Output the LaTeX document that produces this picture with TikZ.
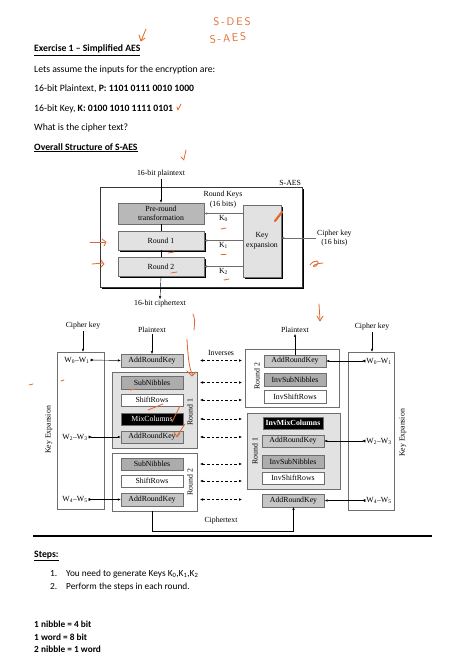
\documentclass[tikz,border=0pt]{standalone}
\usepackage{fontspec}
\setmainfont{Carlito}
\newfontfamily\tms{Liberation Serif}
\usetikzlibrary{arrows.meta,shadows}
\definecolor{ink}{RGB}{226,104,44}
\definecolor{lgray}{RGB}{226,226,226}
\definecolor{mgray}{RGB}{198,198,198}
\definecolor{dgray}{RGB}{172,172,172}
\definecolor{edge}{RGB}{110,110,110}
\tikzset{
  txt/.style={anchor=base west, inner sep=0pt, font=\fontsize{9.7}{12}\selectfont},
  txts/.style={txt, font=\fontsize{9.3}{11}\selectfont},
  dia/.style={inner sep=1pt, font=\tms\fontsize{7.8}{9.5}\selectfont},
  stage/.style={dia, draw=edge, minimum width=62pt, minimum height=12.5pt, inner sep=0pt},
  ark/.style={stage, fill=mgray},
  nib/.style={stage, fill=dgray},
  row/.style={stage, fill=white},
  mix/.style={stage, fill=black, text=white},
  rnd/.style={draw=edge, inner sep=0pt},
  shad/.style={drop shadow={fill=black, opacity=1, shadow xshift=1.6pt, shadow yshift=-1.6pt}},
  tip/.style={-{Latex[length=3pt,width=2.4pt]}},
  inv/.style={{Latex[length=3pt,width=2.4pt]}-{Latex[length=3pt,width=2.4pt]}, dash pattern=on 2.5pt off 2pt},
  wkey/.style={{Latex[reversed,length=3pt,width=3pt]}-{Latex[length=3pt,width=2.4pt]}},
  pen/.style={ink, line width=0.8pt, line cap=round, line join=round},
}
\begin{document}
\begin{tikzpicture}[x=1pt,y=-1pt]
  \useasboundingbox[fill=white] (0,0) rectangle (449,669);

  % 题目文字
  \node[txt] (ex) at (34,52) {\underline{\textbf{Exercise 1 – Simplified AES}}};
  \node[txt] (as) at (34,72) {Lets assume the inputs for the encryption are:};
  \node[txt] (pl) at (34,92) {16-bit Plaintext, \textbf{P: 1101 0111 0010 1000}};
  \node[txt] (ky) at (34,111) {16-bit Key, \textbf{K: 0100 1010 1111 0101}};
  \node[txt] (qu) at (34,130.5) {What is the cipher text?};
  \node[txt] (ov) at (34,150) {\underline{\textbf{Overall Structure of S-AES}}};

  % S-AES 总体结构
  \node[draw=edge!50!black, fill=white, minimum width=202pt, minimum height=100pt, shad] (saes) at (201,237) {};
  \node[dia, anchor=south east] at (saes.north east) {S-AES};
  \node[dia, draw=edge, fill=dgray!85, minimum width=86pt, minimum height=21pt, align=center] (pre) at (161,213.5) {Pre-round\\transformation};
  \node[dia, draw=edge, fill=lgray, minimum width=86pt, minimum height=19pt, shad] (r1u) at (161,240.5) {Round 1};
  \node[dia, draw=edge, fill=lgray, minimum width=86pt, minimum height=19pt, shad] (r2u) at (161,266.5) {Round 2};
  \node[dia, draw=edge, fill=lgray, minimum width=38pt, minimum height=72pt, align=center, shad] (kexp) at (262,241) {Key\\expansion};
  \node[dia, align=center] (rk) at (223,199.5) {Round Keys\\(16 bits)};
  \node[dia, align=center, anchor=west] (cku) at (316,238) {Cipher key\\(16 bits)};
  \node[dia] (ptu) at (161,174) {16-bit plaintext};
  \node[dia] (ctu) at (160,304) {16-bit ciphertext};

  \draw[tip] (ptu.south) -- (pre.north);
  \draw (pre.south) -- (r1u.north);
  \draw (r1u.south) -- (r2u.north);
  \draw[tip] (r2u.south) -- (ctu.north);
  \draw[tip, edge] (cku.west) -- (cku.west -| kexp.east);
  \draw[tip, edge] (kexp.west |- pre.east) -- (pre.east) node[dia, midway, below=1pt, text=black] {K\textsubscript{0}};
  \draw[tip, edge] (kexp.west |- r1u.east) -- (r1u.east) node[dia, midway, below=1pt, text=black] {K\textsubscript{1}};
  \draw[tip, edge] (kexp.west |- r2u.east) -- (r2u.east) node[dia, midway, below=1pt, text=black] {K\textsubscript{2}};

  % 加密与解密
  \node[rnd, minimum width=47pt, minimum height=157pt] (kl) at (80.5,430.5) {};
  \node[rnd, minimum width=46pt, minimum height=158pt] (kr) at (371,431) {};
  \node[rnd, fill=lgray, minimum width=85pt, minimum height=76pt] (r1l) at (154.5,410) {};
  \node[rnd, fill=white, minimum width=85pt, minimum height=58pt] (r2l) at (154.5,482) {};
  \node[rnd, fill=white, minimum width=94pt, minimum height=58pt] (r2r) at (292,378) {};
  \node[rnd, fill=lgray, minimum width=93pt, minimum height=76pt] (r1r) at (293.5,451) {};

  \node[ark] (ark0) at (152,360.5) {AddRoundKey};
  \node[nib] (sub1) at (152,382.5) {SubNibbles};
  \node[row] (shf1) at (152,400) {ShiftRows};
  \node[mix] (mix1) at (152,419) {MixColumns};
  \node[ark] (ark1) at (152,437) {AddRoundKey};
  \node[nib] (sub2) at (152,464) {SubNibbles};
  \node[row] (shf2) at (152,481) {ShiftRows};
  \node[ark] (ark2) at (152,499.5) {AddRoundKey};

  \node[ark] (ark0d) at (295,361) {AddRoundKey};
  \node[nib] (isub2) at (295,379.5) {InvSubNibbles};
  \node[row] (ishf2) at (295,396.5) {InvShiftRows};
  \node[mix, minimum width=60pt] (imix) at (293,423) {\textbf{InvMixColumns}};
  \node[ark] (ark1d) at (293,441) {AddRoundKey};
  \node[nib] (isub1) at (293,461.5) {InvSubNibbles};
  \node[row] (ishf1) at (293,478) {InvShiftRows};
  \node[ark] (ark2d) at (293.5,500.5) {AddRoundKey};

  \node[dia, rotate=90] at (190,412) {Round 1};
  \node[dia, rotate=90] at (190,482) {Round 2};
  \node[dia, rotate=90] at (257,376) {Round 2};
  \node[dia, rotate=90] at (255,451) {Round 1};
  \node[dia, rotate=90] at (49,430) {Key Expansion};
  \node[dia, rotate=90] at (403,433) {Key Expansion};

  \node[dia] (ckl) at (83,326) {Cipher key};
  \node[dia] (ckr) at (372,327) {Cipher key};
  \node[dia] (ptl) at (152,330) {Plaintext};
  \node[dia] (ptr) at (295,330) {Plaintext};
  \node[dia] (invs) at (221,353) {Inverses};
  \node[dia] (ctx) at (221,521) {Ciphertext};

  \node[dia] (w01) at (77,360) {W\textsubscript{0}–W\textsubscript{1}};
  \node[dia] (w23) at (75,437) {W\textsubscript{2}–W\textsubscript{3}};
  \node[dia] (w45) at (75,499.5) {W\textsubscript{4}–W\textsubscript{5}};
  \node[dia] (w01r) at (379,361) {W\textsubscript{0}–W\textsubscript{1}};
  \node[dia] (w23r) at (379,441) {W\textsubscript{2}–W\textsubscript{3}};
  \node[dia] (w45r) at (379,500.5) {W\textsubscript{4}–W\textsubscript{5}};

  \draw[tip] (ckl.south) -- (ckl.south |- kl.north);
  \draw[tip] (ckr.south) -- (ckr.south |- kr.north);
  \draw[tip] (ptl.south) -- (ark0.north);
  \draw[tip] (ark0d.north) -- (ptr.south);
  \draw[wkey] (w01.east) -- (ark0.west);
  \draw[wkey] (w23.east) -- (ark1.west);
  \draw[wkey] (w45.east) -- (ark2.west);
  \draw[wkey] (w01r.west) -- (ark0d.east);
  \draw[wkey] (w23r.west) -- (ark1d.east);
  \draw[wkey] (w45r.west) -- (ark2d.east);

  \coordinate (dl) at (200,0);
  \coordinate (dr) at (242,0);
  \foreach \n in {ark0,sub1,shf1,mix1,ark1,sub2,shf2,ark2}
    \draw[inv] (dl |- \n) -- (dr |- \n);

  \coordinate (cbot) at (0,531);
  \draw[tip] (ark2 |- r2l.south) -- (ark2 |- cbot) -| (ark2d.south);

  \draw[line width=1.3pt] (33,536) -- (432,536);

  % 步骤
  \node[txt] (st) at (34,557) {\underline{\textbf{Steps:}}};
  \node[txts] (s1) at (50,576.5) {1.};
  \node[txts] (s1t) at (66,576.5) {You need to generate Keys K\textsubscript{0},K\textsubscript{1},K\textsubscript{2}};
  \node[txts] (s2) at (50,589) {2.};
  \node[txts] (s2t) at (66,589) {Perform the steps in each round.};
  \node[txts] (n1) at (34,627.5) {\textbf{1 nibble = 4 bit}};
  \node[txts] (n2) at (34,640) {\textbf{1 word = 8 bit}};
  \node[txts] (n3) at (34,652) {\textbf{2 nibble = 1 word}};

  % 手写批注
  \node[ink, font=\sffamily\fontsize{11}{12}\selectfont] (sdes) at (232,22) {S\,-\,D\,E\,S};
  \node[ink, font=\sffamily\fontsize{11}{12}\selectfont, rotate=4] (saesh) at (228,38) {S\,-\,A\,E\,S};
  \draw[pen] (146,29) -- (141,41);
  \draw[pen] (139,35) -- (141,41) -- (145,38);
  \draw[pen] (177,107) -- (178,110) -- (181,104);
  \draw[pen] (186,150) -- (184,159);
  \draw[pen] (181,157) -- (184,160);
  \draw[pen, line width=2.2pt] (275,221) -- (282,212);
  \draw[pen] (221,229) -- (226,228);
  \draw[pen] (221,254) -- (226,254);
  \draw[pen] (224,280) -- (229,279);
  \draw[pen] (168,253) -- (174,252);
  \draw[pen] (171,273) -- (177,272);
  \draw[pen] (90,242) -- (105,242);
  \draw[pen] (102,239) -- (106,242) -- (104,246);
  \draw[pen] (92,264) -- (103,263);
  \draw[pen] (101,260) -- (104,264) -- (101,267);
  \draw[pen] (310,265) .. controls (314,259) and (322,260) .. (316,266) .. controls (312,268) and (311,264) .. (323,263);
  \draw[pen] (319,304) -- (320,320);
  \draw[pen] (317,316) -- (320,321) -- (323,316);
  \draw[pen] (193,314) .. controls (195,320) .. (194,330);
  \draw[pen] (187,339) .. controls (188,360) and (190,372) .. (193,375);
  \draw[pen] (187,371) -- (192,376) -- (196,372);
  \draw[pen] (130,390) -- (136,389);
  \draw[pen] (148,410) -- (163,404);
  \draw[pen] (172,422) -- (180,406);
  \draw[pen] (177,436) -- (185,424);
  \draw[pen] (174,432) -- (177,437) -- (180,433);
  \draw[pen] (29,385) -- (33,384);
  \draw[pen] (61,381) -- (64,380);
\end{tikzpicture}
\end{document}
